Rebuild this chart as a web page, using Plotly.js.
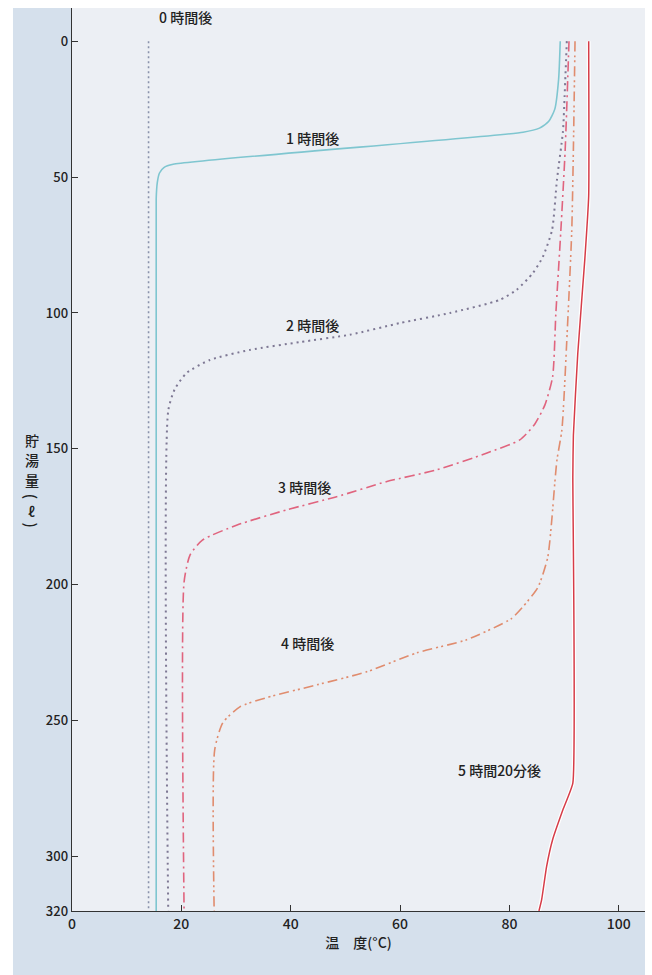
<!DOCTYPE html>
<html>
<head>
<meta charset="utf-8">
<script src="https://cdn.plot.ly/plotly-3.0.1.min.js"></script>
<style>html,body{margin:0;padding:0;background:#fff;}#chart{width:652px;height:975px;}</style>
</head>
<body>
<div id="chart"></div>
<script>
// Temperature (°C) vs stored hot water volume (ℓ)
const t0h = [14, 14];
const v0h = [0, 320];

const t1h = [89.3, 89.0, 88.3, 87.2, 85.5, 82.5, 18.5, 16.8, 16.0, 15.6, 15.4, 15.4];
const v1h = [0, 14, 25, 29.5, 32, 33.5, 45.3, 46.5, 48.5, 52, 58, 320];

const t2h = [90.5, 90.1, 89.8, 88.7, 87.8, 86.1, 84.3, 81.3, 78.2, 69.1, 60, 50.8, 41.7, 32.5, 25.2, 21, 18.8, 17.6, 17.6];
const v2h = [0, 20, 33, 51, 69.5, 79.4, 85.3, 91.5, 95.2, 100, 103.7, 108, 110.7, 113.6, 117.3, 122, 128, 136, 320];

const t3h = [90.9, 90.2, 89.4, 88.5, 87.9, 86.5, 84.6, 81.9, 75.9, 66.7, 57.6, 48.4, 39.3, 30.2, 23.9, 21.6, 20.5, 20.5];
const v3h = [0, 40, 70, 100, 123.5, 133.8, 141, 146.7, 151.5, 157.7, 162, 167.6, 172.4, 178, 183.5, 189, 199, 320];

const t4h = [92.0, 91.7, 91.4, 90.5, 89.6, 88.7, 88.2, 87.8, 87.0, 85.2, 82.5, 80.3, 72.2, 63.1, 53.9, 44.8, 35.6, 30.7, 27.6, 26.1, 26.0];
const v4h = [0, 40, 70, 110, 143, 154, 165, 175, 190, 201, 208, 212.5, 220.2, 225, 232, 236.8, 241.5, 244.9, 250.7, 260.7, 320];

const t5h20 = [94.5, 94.5, 93.8, 92.5, 91.7, 91.6, 91.6, 89.8, 87.9, 86.8, 85.9, 85.4];
const v5h20 = [0, 57, 80, 115, 145, 160, 273, 282.7, 293.8, 303.7, 315.8, 320];

const seriesLabels = ["0 時間後", "1 時間後", "2 時間後", "3 時間後", "4 時間後", "5 時間20分後"];
const yTitleChars = ["貯", "湯", "量", "(", "ℓ", ")"];
const yTickVals = [0, 50, 100, 150, 200, 250, 300, 320];
const xTickVals = [0, 20, 40, 60, 80, 100];

const FONT = '"Noto Sans CJK JP", "Noto Sans", sans-serif';

const traces = [
  {x: t0h, y: v0h, name: seriesLabels[0], mode: 'lines', line: {color: '#8a93ab', width: 1.6, dash: '2px,3px'}},
  {x: t1h, y: v1h, name: seriesLabels[1], mode: 'lines', line: {color: '#7fc6d0', width: 1.6, shape: 'spline', smoothing: 0.6}},
  {x: t2h, y: v2h, name: seriesLabels[2], mode: 'lines', line: {color: '#7e7894', width: 2, dash: '2px,4px', shape: 'spline', smoothing: 0.6}},
  {x: t3h, y: v3h, name: seriesLabels[3], mode: 'lines', line: {color: '#e0647e', width: 1.6, dash: '10px,4px,2px,4px', shape: 'spline', smoothing: 0.6}},
  {x: t4h, y: v4h, name: seriesLabels[4], mode: 'lines', line: {color: '#e08c6e', width: 1.6, dash: '10px,4px,2px,3px,2px,4px', shape: 'spline', smoothing: 0.6}},
  {x: t5h20, y: v5h20, name: '', mode: 'lines', line: {color: '#ffffff', width: 4, shape: 'spline', smoothing: 0.4}, hoverinfo: 'skip'},
  {x: t5h20, y: v5h20, name: seriesLabels[5], mode: 'lines', line: {color: '#d63c48', width: 1.5, shape: 'spline', smoothing: 0.4}}
];

const labelFont = {family: FONT, size: 14, color: '#222', weight: 500};
const annotations = [
  {x: 15.5, y: -8.8, xref: 'x', yref: 'y', text: seriesLabels[0], showarrow: false, xanchor: 'left', font: labelFont},
  {x: 43.9, y: 35.7, xref: 'x', yref: 'y', text: seriesLabels[1], showarrow: false, font: labelFont},
  {x: 43.9, y: 104.4, xref: 'x', yref: 'y', text: seriesLabels[2], showarrow: false, font: labelFont},
  {x: 42.6, y: 164, xref: 'x', yref: 'y', text: seriesLabels[3], showarrow: false, font: labelFont},
  {x: 43.0, y: 221.3, xref: 'x', yref: 'y', text: seriesLabels[4], showarrow: false, font: labelFont},
  {x: 78.2, y: 268, xref: 'x', yref: 'y', text: seriesLabels[5], showarrow: false, font: labelFont}
];
// vertical y-axis title, one upright character per line
const yTitlePos = [0.5216, 0.4994, 0.4773, 0.4590, 0.4430, 0.4270];
yTitleChars.forEach(function (ch, i) {
  const paren = (ch === '(' || ch === ')');
  annotations.push({
    x: -0.07, y: yTitlePos[i], xref: 'paper', yref: 'paper', xanchor: 'center', yanchor: 'middle',
    text: ch, showarrow: false, textangle: paren ? 90 : 0,
    font: {family: FONT, size: paren ? 15 : 14, color: '#222', weight: 500}
  });
});

const layout = {
  width: 652, height: 975,
  margin: {l: 72, r: 7, t: 8, b: 64},
  paper_bgcolor: '#d5e0ec',
  plot_bgcolor: '#eceff4',
  showlegend: false,
  font: {family: FONT, size: 14, color: '#222'},
  xaxis: {
    range: [0, 104.8], tickvals: xTickVals, ticks: 'inside', ticklen: 6, tickcolor: '#333',
    showline: true, linecolor: '#333', linewidth: 1.3, showgrid: false, zeroline: false,
    tickfont: {family: FONT, size: 14, color: '#222', weight: 500},
    title: {text: '温　度(°C)', font: {family: FONT, size: 14, color: '#222', weight: 500}, standoff: 6}
  },
  yaxis: {
    range: [320, -12.2], tickvals: yTickVals, ticks: 'inside', ticklen: 6, tickcolor: '#333',
    showline: true, linecolor: '#333', linewidth: 1.3, showgrid: false, zeroline: false,
    tickfont: {family: FONT, size: 13, color: '#222', weight: 500}
  },
  annotations: annotations,
  shapes: [
    {type: 'rect', xref: 'paper', yref: 'paper', x0: -0.13, x1: -0.103, y0: -0.1, y1: 1.02, fillcolor: '#ffffff', line: {width: 0}, layer: 'above'},
    {type: 'rect', xref: 'paper', yref: 'paper', x0: -0.13, x1: 1.02, y0: 1.0, y1: 1.02, fillcolor: '#ffffff', line: {width: 0}, layer: 'above'},
    {type: 'rect', xref: 'paper', yref: 'paper', x0: 1.0, x1: 1.02, y0: -0.1, y1: 1.02, fillcolor: '#ffffff', line: {width: 0}, layer: 'above'}
  ]
};

Plotly.newPlot('chart', traces, layout, {displayModeBar: false, staticPlot: true});
</script>
</body>
</html>
